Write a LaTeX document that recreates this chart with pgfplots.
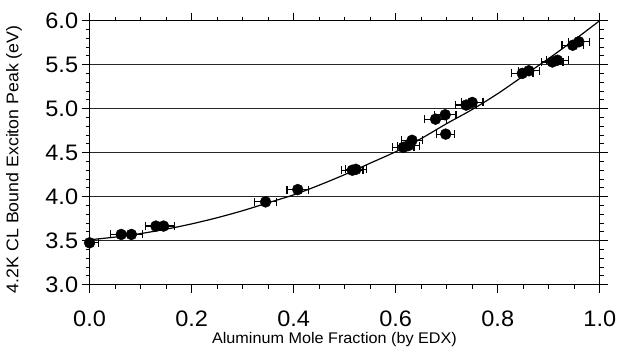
\documentclass[border=0pt]{standalone}
\usepackage{fontspec}
\setmainfont{Liberation Sans}[FakeStretch=1.05]
\usepackage{pgfplots}
\pgfplotsset{compat=1.18}
\usepackage{pgfplotstable}

\pgfplotstableread{
x y ex
0.000 3.475 0.018
0.062 3.57 0.021
0.082 3.57 0.021
0.130 3.665 0.021
0.145 3.665 0.021
0.345 3.94 0.021
0.408 4.08 0.021
0.515 4.30 0.021
0.522 4.31 0.021
0.615 4.56 0.021
0.625 4.58 0.021
0.632 4.64 0.021
0.678 4.88 0.021
0.697 4.93 0.021
0.698 4.71 0.018
0.738 5.04 0.021
0.750 5.07 0.021
0.848 5.40 0.021
0.861 5.43 0.021
0.907 5.53 0.021
0.917 5.55 0.021
0.947 5.72 0.021
0.959 5.76 0.021
}\datatable

\pgfplotstableread{
x y
0.00 3.51
0.05 3.54
0.10 3.58
0.15 3.63
0.20 3.69
0.25 3.76
0.30 3.84
0.35 3.93
0.40 4.02
0.45 4.13
0.50 4.25
0.55 4.38
0.60 4.51
0.65 4.66
0.70 4.83
0.75 4.99
0.80 5.17
0.85 5.37
0.90 5.57
0.95 5.78
1.00 6.00
}\curvetable

\begin{document}
\begin{tikzpicture}
\useasboundingbox (-90pt,-62pt) rectangle (531pt,286pt);
\begin{axis}[
  at={(0,0)}, anchor=south west, scale only axis,
  width=512.7pt, height=265.3pt,
  xmin=0, xmax=1, ymin=3, ymax=6,
  xtick={0,0.2,0.4,0.6,0.8,1.0},
  ytick={3,3.5,4,4.5,5,5.5,6},
  minor x tick num=3, minor y tick num=4,
  tick align=outside,
  major tick length=8pt, minor tick length=4pt,
  axis line style={line width=1.3pt},
  every tick/.style={black, line width=1pt},
  ymajorgrids,
  grid style={black!85, line width=1.3pt},
  tick label style={font=\fontsize{22.5}{22.5}\selectfont},
  xticklabel style={inner sep=0pt, anchor=north, yshift=-18pt},
  /pgf/number format/fixed,
  /pgf/number format/fixed zerofill,
  /pgf/number format/precision=1,
  /pgf/number format/assume math mode=true,
  xlabel={Aluminum Mole Fraction (by EDX)},
  ylabel={4.2K CL Bound Exciton Peak (eV)},
  xlabel style={font=\fontsize{15.5}{15.5}\selectfont, inner sep=0pt, at={(axis description cs:0.48,-0.222)}, anchor=base},
  ylabel style={font=\fontsize{17}{17}\selectfont, at={(axis description cs:-0.148,0.475)}, anchor=center},
]
\addplot[black, line width=1.2pt, smooth] table[x=x, y=y] {\curvetable};
\addplot[only marks, mark=*, mark size=5.5pt, black,
  error bars/.cd, x dir=both, x explicit,
  error bar style={line width=1.2pt},
  error mark=|,
  error mark options={mark size=4pt, line width=1.2pt}]
  table[x=x, y=y, x error=ex] {\datatable};
\end{axis}
\end{tikzpicture}
\end{document}
